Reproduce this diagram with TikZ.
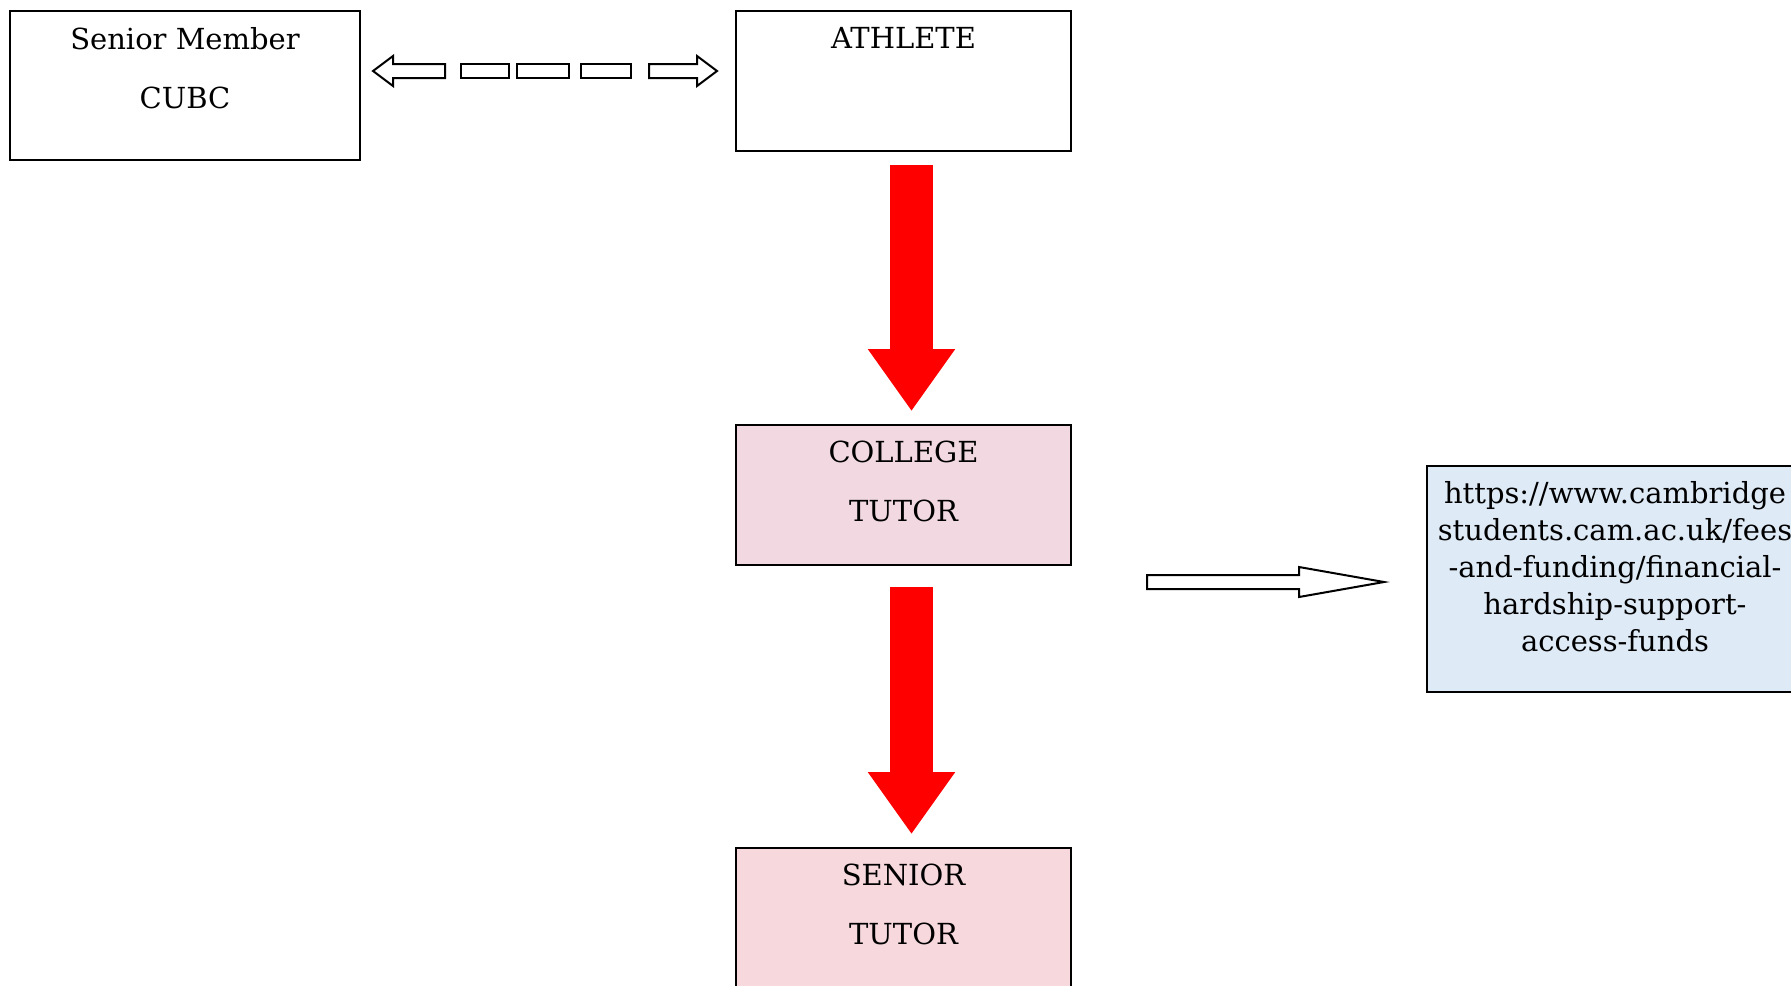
\documentclass[tikz,border=0pt]{standalone}
\usepackage{fontspec}
\setmainfont{DejaVu Serif}
\usetikzlibrary{positioning,arrows.meta}
\definecolor{tutorpink}{HTML}{F2D9E1}
\definecolor{seniorpink}{HTML}{F6D8DD}
\definecolor{linkblue}{HTML}{DEEAF6}

\begin{document}
\begin{tikzpicture}[x=0.5pt,y=-0.5pt,
    box/.style={draw, line width=1.3pt, minimum width=167.5pt, minimum height=70pt, inner sep=0pt},
    boxtext/.style={align=center, inner sep=0pt, font=\fontsize{14.5}{18.5}\selectfont},
    hollow/.style={draw, line width=1pt, fill=white, line join=miter},
    redarrow/.style={red, line width=21.5pt, -{Triangle[length=31pt, width=41.5pt]}}]
    \useasboundingbox (0,0) rectangle (1791,985);

    % boxes
    \node[box, minimum width=175pt, minimum height=74.5pt] (member) at (185,85.5) {};
    \node[box] (athlete) at (903.5,81) {};
    \node[box, fill=tutorpink] (college) at (903.5,495) {};
    \node[box, fill=seniorpink] (senior) at (903.5,918) {};
    \node[box, fill=linkblue, minimum width=188pt, minimum height=113pt] (link) at (1615,579) {};

    \node[boxtext, below=8.5pt of member.north] {Senior Member\\[11pt]CUBC};
    \node[boxtext, below=8.5pt of athlete.north] {ATHLETE};
    \node[boxtext, below=8.5pt of college.north] {COLLEGE\\[11pt]TUTOR};
    \node[boxtext, below=8.5pt of senior.north] {SENIOR\\[11pt]TUTOR};
    \node[boxtext, below=8pt of link.north] {https://www.cambridge\\students.cam.ac.uk/fees\\-and-funding/financial-\\hardship-support-\\access-funds};

    % red arrows
    \draw[redarrow] ([xshift=4pt,yshift=-6.5pt]athlete.south) -- ([xshift=4pt,yshift=6.3pt]college.north);
    \draw[redarrow] ([xshift=4pt,yshift=-10.5pt]college.south) -- ([xshift=4pt,yshift=6.3pt]senior.north);

    %Dashed double arrow
    \draw[hollow] (373,71) -- (393,56) -- (393,64) -- (445,64) -- (445,78) -- (393,78) -- (393,86) -- cycle;
    \foreach \a/\b in {461/509,517/569,581/631}
      \draw[hollow] (\a,64) rectangle (\b,78);
    \draw[hollow] (717,71) -- (697,56) -- (697,64) -- (649,64) -- (649,78) -- (697,78) -- (697,86) -- cycle;

    % arrow to link
    \draw[hollow] (1147,575) -- (1299,575) -- (1299,567) -- (1384,582) -- (1299,597) -- (1299,589) -- (1147,589) -- cycle;
\end{tikzpicture}
\end{document}
